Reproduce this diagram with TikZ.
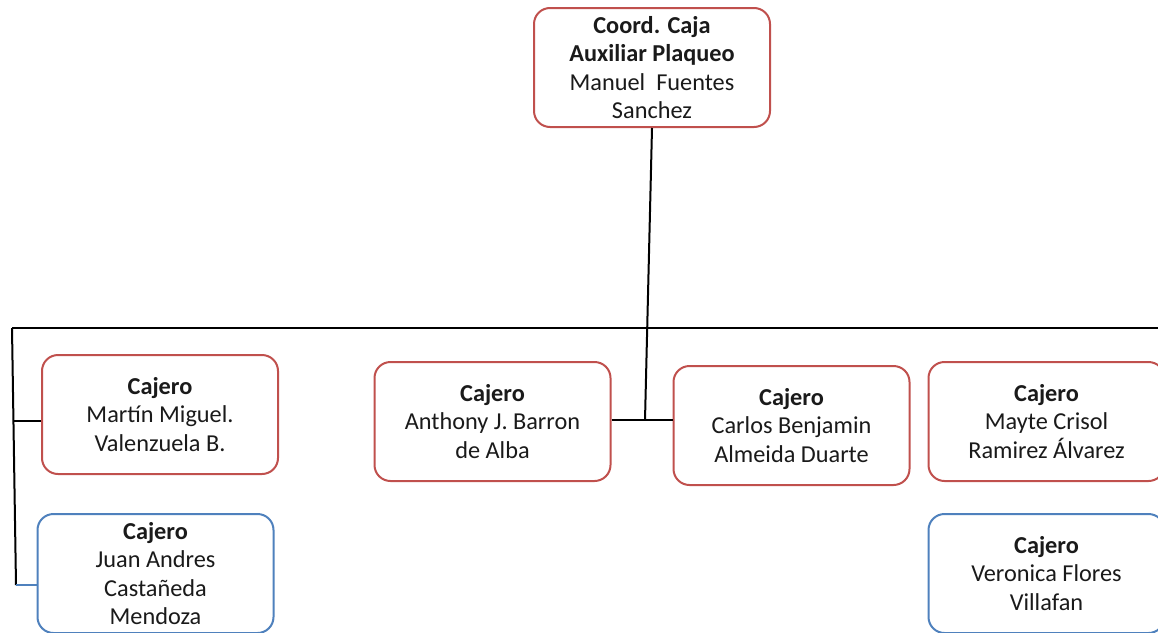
\documentclass[tikz,border=0pt]{standalone}
\usepackage{fontspec}
\setmainfont{Carlito}
\definecolor{boxred}{HTML}{C0504D}
\definecolor{boxblue}{HTML}{4F81BD}
\definecolor{ink}{HTML}{1A1A1A}
\tikzset{
  person/.style={draw=boxred, line width=2pt, rounded corners=16pt, fill=white,
    minimum width=236pt, minimum height=119pt, align=center, inner sep=0pt,
    text=ink, font=\fontsize{24.3}{28.6}\selectfont},
  personblue/.style={person, draw=boxblue},
  link/.style={draw=black, line width=2pt},
  linkblue/.style={draw=boxblue, line width=2pt}
}
\begin{document}
\begin{tikzpicture}[x=1pt, y=-1pt]
  \useasboundingbox (0,0) rectangle (1158,632);
  \clip (0,0) rectangle (1158,632);

  % head of the area
  \node[person] (coord) at (652,67.5) {\textbf{Coord. Caja}\\\textbf{Auxiliar Plaqueo}\\Manuel\ \ Fuentes\\Sanchez};

  % cashiers
  \node[person] (martin) at (160,414.5) {\textbf{Cajero}\\Martín Miguel.\\Valenzuela B.};
  \node[personblue] (juan) at (155.5,573.5) {\textbf{Cajero}\\Juan Andres\\Castañeda\\Mendoza};
  \node[person] (anthony) at (492.5,421.5) {\textbf{Cajero}\\Anthony J. Barron\\de Alba};
  \node[person] (carlos) at (791.5,425.5) {\textbf{Cajero}\\Carlos Benjamin\\Almeida Duarte};
  \node[person] (mayte) at (1046.5,421.5) {\textbf{Cajero}\\Mayte Crisol\\Ramirez Álvarez};
  \node[personblue] (veronica) at (1046.5,573.5) {\textbf{Cajero}\\Veronica Flores\\Villafan};

  % connector points
  \coordinate (hub) at (645,420);
  \coordinate (busL) at (12,328);
  \coordinate (busR) at (1160,328);
  \coordinate (leftEnd) at (16,585);
  \coordinate (martinJoin) at (14,421);
  \coordinate (juanJoin) at (juan.west |- leftEnd);

  % connectors
  \draw[link] (busL) -- (busR);
  \draw[link] (coord.south) -- (hub);
  \draw[link] (anthony.east |- hub) -- (hub) -- (carlos.west |- hub);
  \draw[link] (busL) -- (leftEnd);
  \draw[link] (martinJoin) -- (martin.west |- martinJoin);
  \draw[linkblue] (leftEnd) -- (juanJoin);
\end{tikzpicture}
\end{document}
